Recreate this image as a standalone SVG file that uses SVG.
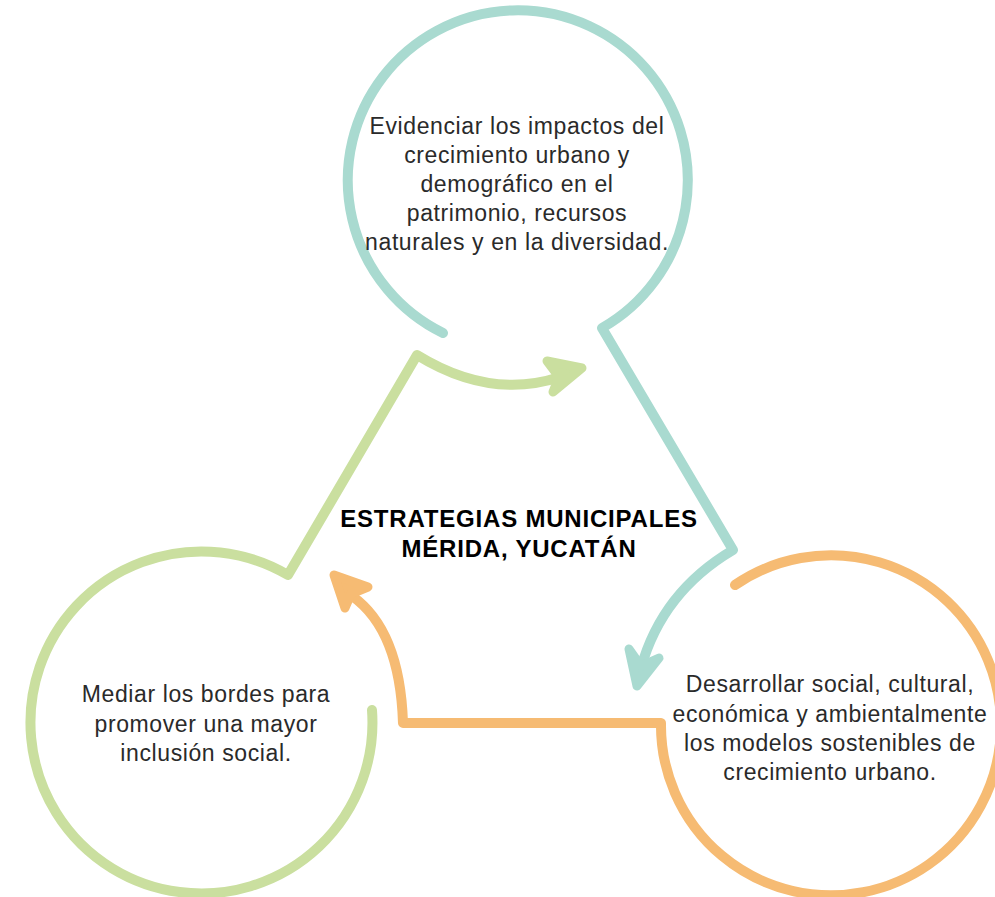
<svg xmlns="http://www.w3.org/2000/svg" width="995" height="897" viewBox="0 0 995 897">
<style>
.ln{fill:none;stroke-width:10;stroke-linecap:round;stroke-linejoin:round}
.ah{stroke-width:9;stroke-linejoin:round}
.teal{stroke:#a9dad0}
.green{stroke:#cadf9f}
.orange{stroke:#f6bb73}
.t{font-family:"Liberation Sans",Arial,sans-serif;font-size:23px;letter-spacing:0.6px;fill:#2a2a2a;text-anchor:middle}
.b{font-family:"Liberation Sans",Arial,sans-serif;font-size:24px;letter-spacing:0.8px;font-weight:bold;fill:#000;text-anchor:middle}
</style>
<rect width="995" height="897" fill="#ffffff"/>
<g id="connectors">
<path class="ln teal" d="M443,333 A170,170 0 1 1 602,328 L733,550 Q662,592 641,668"/>
<polygon class="ah teal" fill="#a9dad0" points="637,686 629,649 641,666 659,658"/>
<path class="ln green" d="M372,710 A171,171 0 1 1 288,575 L417,355 Q490,400 560,377"/>
<polygon class="ah green" fill="#cadf9f" points="582,368 547,361 559,377 553,392"/>
<path class="ln orange" d="M735,585 A170,170 0 1 1 661,723 L403,723 Q400,630 352,596"/>
<polygon class="ah orange" fill="#f6bb73" points="334,575 368,587 351,594 345,608"/>
</g>
<g id="node-top">
<text class="t" x="517" y="134">Evidenciar los impactos del</text>
<text class="t" x="517" y="163">crecimiento urbano y</text>
<text class="t" x="517" y="192">demográfico en el</text>
<text class="t" x="517" y="221">patrimonio, recursos</text>
<text class="t" x="517" y="250">naturales y en la diversidad.</text>
</g>
<g id="node-center">
<text class="b" x="519" y="527">ESTRATEGIAS MUNICIPALES</text>
<text class="b" x="519" y="557">MÉRIDA, YUCATÁN</text>
</g>
<g id="node-left">
<text class="t" x="206" y="702">Mediar los bordes para</text>
<text class="t" x="206" y="732">promover una mayor</text>
<text class="t" x="206" y="761">inclusión social.</text>
</g>
<g id="node-right">
<text class="t" x="830" y="692">Desarrollar social, cultural,</text>
<text class="t" x="830" y="722">económica y ambientalmente</text>
<text class="t" x="830" y="751">los modelos sostenibles de</text>
<text class="t" x="830" y="780">crecimiento urbano.</text>
</g>
</svg>
